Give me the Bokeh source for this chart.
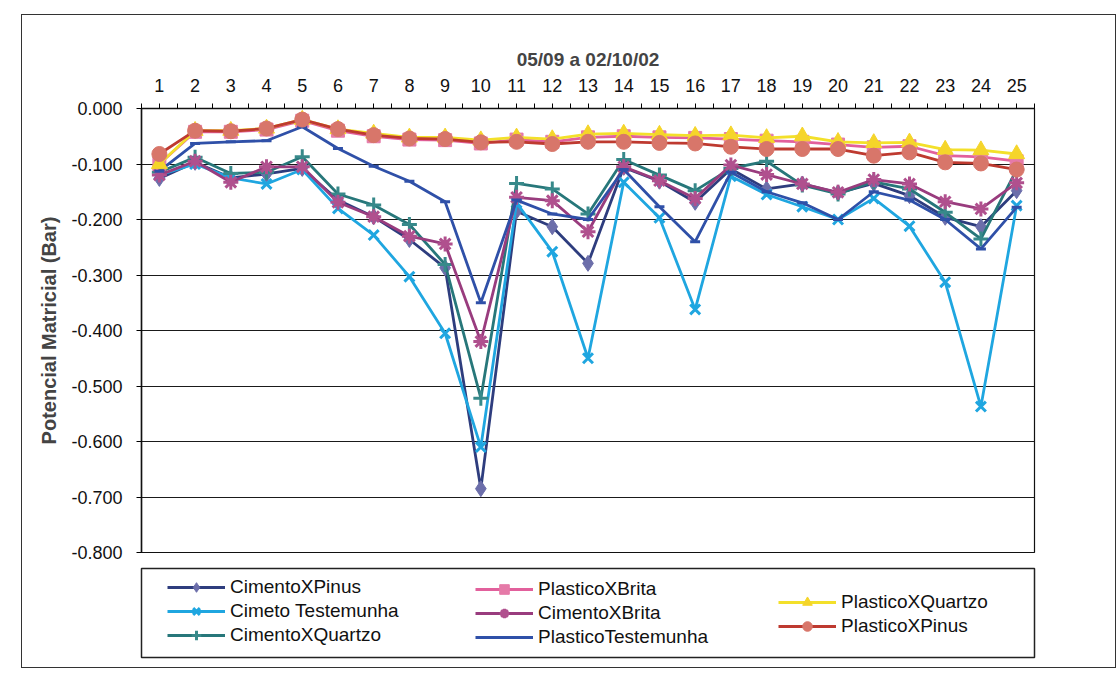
from bokeh.plotting import figure
from bokeh.layouts import column, row
from bokeh.models import (Range1d, FixedTicker, PrintfTickFormatter, Legend, LegendItem, Spacer)
from bokeh.embed import file_html
from bokeh.resources import INLINE

days = list(range(1, 26))
day_labels = [str(d) for d in days]
y_ticks = [0.0, -0.1, -0.2, -0.3, -0.4, -0.5, -0.6, -0.7, -0.8]

cimento_pinus = [-0.126, -0.097, -0.125, -0.118, -0.108, -0.165, -0.195, -0.236, -0.287, -0.685,
                 -0.185, -0.213, -0.279, -0.106, -0.131, -0.169, -0.109, -0.145, -0.136, -0.152,
                 -0.135, -0.157, -0.196, -0.213, -0.148]
cimeto_testemunha = [-0.120, -0.100, -0.125, -0.136, -0.110, -0.180, -0.228, -0.303, -0.405, -0.610,
                     -0.170, -0.258, -0.450, -0.133, -0.197, -0.362, -0.122, -0.155, -0.177, -0.200,
                     -0.162, -0.212, -0.313, -0.537, -0.175]
cimento_quartzo = [-0.115, -0.088, -0.117, -0.115, -0.087, -0.154, -0.174, -0.209, -0.281, -0.522,
                   -0.135, -0.145, -0.190, -0.092, -0.120, -0.148, -0.108, -0.095, -0.138, -0.154,
                   -0.132, -0.145, -0.187, -0.235, -0.110]
plastico_brita = [-0.100, -0.042, -0.042, -0.038, -0.022, -0.040, -0.050, -0.056, -0.057, -0.063,
                  -0.056, -0.060, -0.052, -0.050, -0.052, -0.053, -0.055, -0.058, -0.060, -0.065,
                  -0.070, -0.068, -0.085, -0.087, -0.095]
cimento_brita = [-0.120, -0.095, -0.133, -0.105, -0.105, -0.169, -0.195, -0.230, -0.244, -0.420,
                 -0.160, -0.166, -0.222, -0.105, -0.130, -0.162, -0.102, -0.119, -0.136, -0.151,
                 -0.128, -0.136, -0.168, -0.181, -0.134]
plastico_testemunha = [-0.113, -0.063, -0.060, -0.058, -0.033, -0.072, -0.104, -0.131, -0.168, -0.350,
                       -0.165, -0.190, -0.200, -0.110, -0.177, -0.240, -0.115, -0.150, -0.170, -0.200,
                       -0.150, -0.165, -0.200, -0.253, -0.178]
plastico_quartzo = [-0.100, -0.040, -0.040, -0.036, -0.020, -0.037, -0.045, -0.052, -0.052, -0.057,
                    -0.052, -0.055, -0.046, -0.045, -0.047, -0.049, -0.048, -0.053, -0.050, -0.060,
                    -0.062, -0.061, -0.074, -0.075, -0.082]
plastico_pinus = [-0.082, -0.040, -0.041, -0.036, -0.020, -0.037, -0.048, -0.054, -0.055, -0.061,
                  -0.060, -0.064, -0.060, -0.060, -0.062, -0.063, -0.069, -0.073, -0.073, -0.073,
                  -0.085, -0.079, -0.097, -0.099, -0.110]

FONT = "Liberation Sans"

series = [
    ("CimentoXPinus", cimento_pinus, "#2E3D7E", "diamond", "#6C6EAA", 16),
    ("Cimeto Testemunha", cimeto_testemunha, "#1FA6E0", "x", "#1FA6E0", 14),
    ("CimentoXQuartzo", cimento_quartzo, "#27777A", "cross", "#37898A", 15),
    ("PlasticoXBrita", plastico_brita, "#E2609C", "square", "#E57AA8", 13),
    ("CimentoXBrita", cimento_brita, "#993C7E", "asterisk", "#B0508E", 15),
    ("PlasticoTestemunha", plastico_testemunha, "#2F50A8", "dash", "#2F50A8", 10),
    ("PlasticoXQuartzo", plastico_quartzo, "#F3E02A", "triangle", "#F5D52A", 16),
    ("PlasticoXPinus", plastico_pinus, "#BE3A30", "circle", "#D8766A", 15),
]


def draw(fig, name, vals, lc, marker, mc, size):
    r1 = fig.line(days, vals, line_color=lc, line_width=2.8)
    if marker in ("x", "cross", "asterisk", "dash"):
        r2 = fig.scatter(days, vals, marker=marker, size=size, line_color=mc, line_width=3)
    else:
        r2 = fig.scatter(days, vals, marker=marker, size=size, fill_color=mc, line_color=mc,
                         line_width=1)
    return [r1, r2]


# ---------------- main chart ----------------
p = figure(width=1093, height=549, x_range=Range1d(0.5, 25.5), y_range=Range1d(-0.8, 0.0),
           x_axis_location="above", output_backend="svg", toolbar_location=None,
           min_border_left=119, min_border_right=69, min_border_top=93, min_border_bottom=12)
p.outline_line_color = "#111"
p.outline_line_width = 1.2
p.border_fill_color = "white"

xa = p.xaxis[0]
xa.ticker = FixedTicker(ticks=days, minor_ticks=[d - 0.5 for d in days] + [25.5])
xa.major_label_overrides = {d: l for d, l in zip(days, day_labels)}
xa.axis_label = "05/09 a 02/10/02"
xa.axis_label_text_font = FONT
xa.axis_label_text_font_style = "bold"
xa.axis_label_text_font_size = "19px"
xa.axis_label_standoff = 6
xa.major_label_text_font = FONT
xa.major_label_text_font_size = "18px"
xa.major_label_text_color = "#111"
xa.major_label_standoff = 12
xa.major_tick_in = 0
xa.major_tick_out = 5
xa.minor_tick_in = 0
xa.minor_tick_out = 5
xa.axis_line_color = "#111"
xa.axis_line_width = 1.5

ya = p.yaxis[0]
ya.ticker = FixedTicker(ticks=y_ticks)
ya.formatter = PrintfTickFormatter(format="%.3f")
ya.axis_label = "Potencial Matricial (Bar)"
ya.axis_label_text_font = FONT
ya.axis_label_text_font_style = "bold"
ya.axis_label_text_font_size = "20px"
ya.axis_label_standoff = 8
ya.major_label_text_font = FONT
ya.major_label_text_font_size = "18px"
ya.major_label_text_color = "#111"
ya.major_label_standoff = 14
ya.major_tick_in = 0
ya.major_tick_out = 5
ya.minor_tick_line_color = None
ya.axis_line_color = "#111"
ya.axis_line_width = 1.5

p.xgrid.visible = False
p.ygrid.ticker = FixedTicker(ticks=y_ticks)
p.ygrid.grid_line_color = "#1a1a1a"
p.ygrid.grid_line_width = 1.2

for s in series:
    draw(p, *s)

# ---------------- legend panel ----------------
lg = figure(width=1093, height=103, x_range=Range1d(0.5, 25.5), y_range=Range1d(5.0, 6.0),
            output_backend="svg", toolbar_location=None,
            min_border_left=108, min_border_right=81, min_border_top=4, min_border_bottom=10)
lg.axis.visible = False
lg.grid.visible = False
lg.outline_line_color = "#222"
lg.outline_line_width = 1.5

items = {}
for s in series:
    items[s[0]] = LegendItem(label=s[0], renderers=draw(lg, *s))

columns = [
    (["CimentoXPinus", "Cimeto Testemunha", "CimentoXQuartzo"], (26, 10)),
    (["PlasticoXBrita", "CimentoXBrita", "PlasticoTestemunha"], (334, 8)),
    (["PlasticoXQuartzo", "PlasticoXPinus"], (637, 19)),
]
for names, loc in columns:
    leg = Legend(items=[items[n] for n in names], location=loc, orientation="vertical",
                 border_line_alpha=0, background_fill_alpha=0, padding=0, margin=0, spacing=0,
                 glyph_width=58, glyph_height=24, label_height=24, label_standoff=5,
                 label_text_font=FONT, label_text_font_size="19px", label_text_color="#111")
    lg.add_layout(leg)

inner = column(p, lg, styles={"border": "1.5px solid #333"})
root = column(Spacer(height=14), row(Spacer(width=21), inner))

open("out.html", "w").write(file_html(root, INLINE))
